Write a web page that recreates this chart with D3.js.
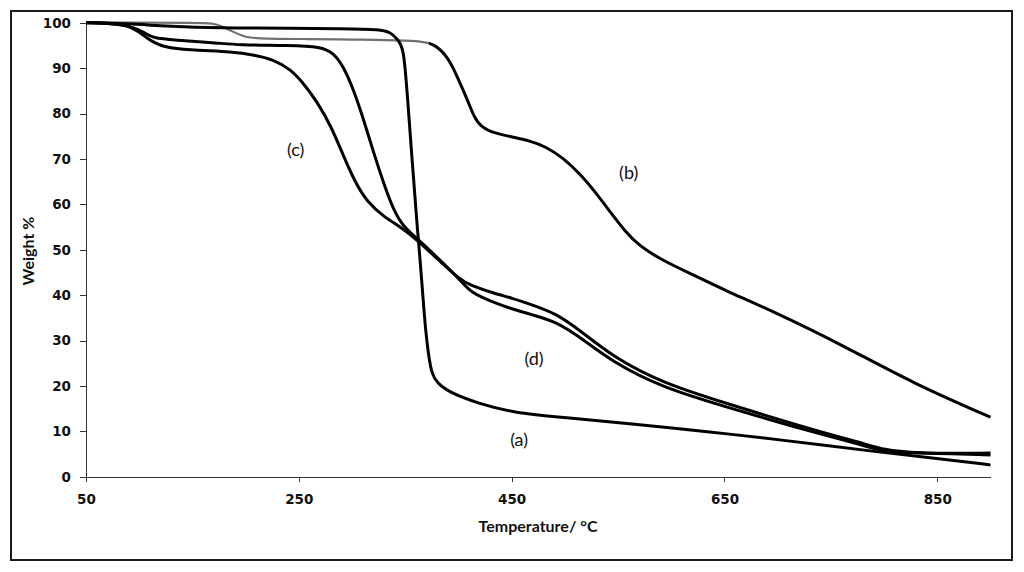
<!DOCTYPE html>
<html lang="en">
<head>
    <meta charset="UTF-8">
    <title>TGA curves</title>
    <script src="https://cdn.jsdelivr.net/npm/d3@7"></script>
    <style>
        body {
            margin: 0;
            background: #fff;
        }

        svg {
            display: block;
        }

        .axis path,
        .axis line {
            stroke: #333;
            stroke-width: 1px;
            shape-rendering: crispEdges;
        }

        .axis text {
            font-family: "DejaVu Sans", Verdana, sans-serif;
            font-weight: bold;
            font-size: 13.5px;
            fill: #111;
        }

        .curve {
            fill: none;
            stroke: #000;
            stroke-width: 3px;
            stroke-linejoin: round;
        }

        .curve-gray {
            fill: none;
            stroke: #707070;
            stroke-width: 2.2px;
        }

        .axis-title {
            font-family: Lato, "Open Sans", sans-serif;
            font-weight: bold;
            font-size: 16px;
            fill: #111;
        }

        .curve-label {
            font-family: Lato, "Open Sans", sans-serif;
            font-size: 18px;
            fill: #111;
        }
    </style>
</head>
<body>
<svg width="1024" height="572"></svg>
<script>

    // temperature (°C) / weight (%)
    var curveA = [
        [50, 100], [90, 99.8], [120, 99.3], [150, 99.0], [200, 98.8], [300, 98.7],
        [325, 98.5], [336, 98.0], [343, 96.2], [348.5, 94.7], [352, 84], [356.7, 69],
        [361.5, 54.3], [364, 47.7], [367, 38.5], [369, 32.5], [372, 26.5], [375, 22.6],
        [380, 20.6], [393, 18.4], [418, 16.2], [451, 14.1], [500, 13.0], [560, 11.7],
        [639, 9.8], [700, 8.2], [796, 5.4], [850, 4.0], [900, 2.6]
    ];

    var curveB = [
        [50, 100], [100, 100], [150, 100], [170, 99.9], [178, 99.2], [188, 98.0],
        [198, 97.0], [207, 96.5], [260, 96.4], [300, 96.3], [346, 96.1], [365, 95.9],
        [377, 95.4], [390, 92.5], [399, 88.1], [408.5, 83], [414.5, 79.3], [421, 77.1],
        [433, 75.7], [451, 74.8], [467, 74.0], [482, 72.7], [498, 70.3], [514, 66.8],
        [529, 62.6], [543, 58.2], [556, 54.2], [570, 50.8], [592, 47.6], [623, 44.2],
        [648, 41.3], [700, 36.0], [764, 28.6], [827, 20.6], [900, 13.1]
    ];

    var curveC = [
        [50, 100], [70, 99.9], [89, 99.5], [100, 98], [107.5, 96.6], [115, 95.5],
        [123, 94.7], [145, 94.0], [189, 93.6], [208, 92.9], [226, 91.9], [242, 89.8],
        [255, 86.5], [267, 82.6], [280, 77.4], [292, 70.6], [303, 64.8], [314, 60.6],
        [330, 57.2], [345.7, 55.0], [361.5, 52.1], [380, 48], [402, 43.3], [411, 42.2],
        [433, 40.4], [451, 39.3], [470, 37.8], [491, 36.0], [514, 32.3], [545, 26.4],
        [592, 20.6], [651, 16.2], [733, 10.3], [780, 7.4], [800, 5.9], [827, 5.2], [900, 4.8]
    ];

    var curveD = [
        [50, 100], [75, 99.9], [94, 99.1], [105, 97.8], [113, 96.6], [132, 96.2],
        [176, 95.5], [192, 95.1], [242, 95.0], [270.5, 94.7], [283, 93.3], [292, 90.3],
        [301.5, 85.2], [311, 78.6], [320.5, 71.2], [329.8, 64.6], [339, 58.7], [348.5, 55.0],
        [361.5, 52.4], [380, 48.3], [402, 43.3], [411, 40.6], [433, 38.4], [451, 36.9],
        [470, 35.6], [491, 34.2], [514, 30.8], [545, 25.2], [592, 19.6], [651, 15.4],
        [733, 9.8], [780, 7.0], [796, 5.7], [827, 5.1], [900, 5.2]
    ];

    // the early part of (b) is drawn in gray, the rest in black
    var grayUntil = 372;

    var xTicks = [50, 250, 450, 650, 850];
    var yTicks = [0, 10, 20, 30, 40, 50, 60, 70, 80, 90, 100];

    var labels = [
        {text: '(a)', t: 457, w: 8.1},
        {text: '(b)', t: 560, w: 66.9},
        {text: '(c)', t: 247, w: 72},
        {text: '(d)', t: 471, w: 26.1}
    ];

    var svg = d3.select('svg');

    svg.append('rect')
        .attr('x', 11)
        .attr('y', 11)
        .attr('width', 1001)
        .attr('height', 549)
        .attr('fill', 'none')
        .attr('stroke', '#1a1a1a')
        .attr('stroke-width', 2);

    var x = d3.scaleLinear()
        .domain([50, 900])
        .range([86, 990.5]);

    var y = d3.scaleLinear()
        .domain([0, 100])
        .range([476.7, 22.7]);

    var xAxis = d3.axisBottom(x)
        .tickValues(xTicks)
        .tickSize(5)
        .tickSizeOuter(0)
        .tickPadding(13);

    var yAxis = d3.axisLeft(y)
        .tickValues(yTicks)
        .tickSize(6)
        .tickSizeOuter(0)
        .tickPadding(9);

    svg.append('g')
        .attr('class', 'axis')
        .attr('transform', 'translate(0,' + y(0) + ')')
        .call(xAxis);

    svg.append('g')
        .attr('class', 'axis')
        .attr('transform', 'translate(' + x(50) + ',0)')
        .call(yAxis);

    var line = d3.line()
        .x(function (d) { return x(d[0]); })
        .y(function (d) { return y(d[1]); })
        .curve(d3.curveBasis);

    var defs = svg.append('defs');

    defs.append('clipPath')
        .attr('id', 'gray-part')
        .append('rect')
        .attr('x', 0)
        .attr('y', 0)
        .attr('width', x(grayUntil))
        .attr('height', 572);

    defs.append('clipPath')
        .attr('id', 'black-part')
        .append('rect')
        .attr('x', x(grayUntil))
        .attr('y', 0)
        .attr('width', 1024)
        .attr('height', 572);

    var curveLayer = svg.append('g').attr('class', 'curve-layer');

    curveLayer.append('path')
        .attr('class', 'curve-gray')
        .attr('clip-path', 'url(#gray-part)')
        .attr('d', line(curveB));

    curveLayer.append('path')
        .attr('class', 'curve')
        .attr('clip-path', 'url(#black-part)')
        .attr('d', line(curveB));

    [curveA, curveC, curveD].forEach(function (data) {
        curveLayer.append('path')
            .attr('class', 'curve')
            .attr('d', line(data));
    });

    svg.selectAll('.curve-label')
        .data(labels)
        .enter()
        .append('text')
        .attr('class', 'curve-label')
        .attr('x', function (d) { return x(d.t); })
        .attr('y', function (d) { return y(d.w); })
        .attr('dy', '0.35em')
        .attr('text-anchor', 'middle')
        .text(function (d) { return d.text; });

    svg.append('text')
        .attr('class', 'axis-title')
        .attr('x', 538)
        .attr('y', 532)
        .attr('text-anchor', 'middle')
        .text('Temperature/ °C');

    svg.append('text')
        .attr('class', 'axis-title')
        .attr('transform', 'translate(34,251) rotate(-90)')
        .attr('text-anchor', 'middle')
        .text('Weight %');

</script>
</body>
</html>
